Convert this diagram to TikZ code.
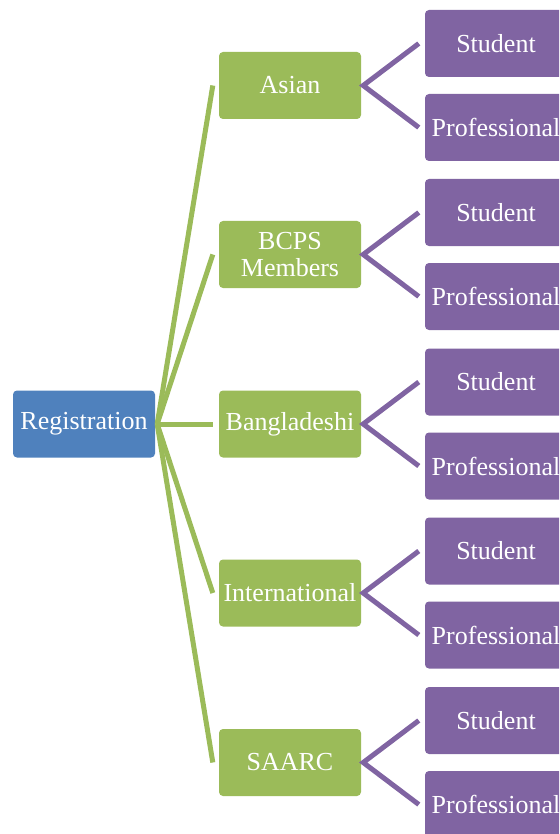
\documentclass[tikz,border=0pt]{standalone}
\usepackage{fontspec}
\setmainfont{Liberation Serif}
\usetikzlibrary{calc}
\definecolor{regblue}{HTML}{4F81BD}
\definecolor{catgreen}{HTML}{9BBB59}
\definecolor{subpurple}{HTML}{8064A2}
\tikzset{
  boxbase/.style={rounded corners=4pt, minimum width=142pt, minimum height=67pt, inner sep=0pt, text=white, font=\fontsize{26pt}{27pt}\selectfont, align=center},
  regbox/.style={boxbase, fill=regblue},
  catbox/.style={boxbase, fill=catgreen},
  subbox/.style={boxbase, fill=subpurple},
  greenlink/.style={draw=catgreen, line width=5pt},
  purplelink/.style={draw=subpurple, line width=5pt, line join=miter},
}
\begin{document}
\begin{tikzpicture}[x=1pt,y=-1pt]
\useasboundingbox (0,0) rectangle (559,834);
\clip (0,0) rectangle (559,834);
\node[regbox] (reg) at (84,424) {Registration};
\coordinate (hub) at ($(reg.east)+(2,0)$);
\foreach \name/\txt/\y in {asian/Asian/85.5, bcps/{BCPS\\Members}/254.5, bd/Bangladeshi/424, intl/International/593, saarc/SAARC/762.5}{
  \node[catbox] (\name) at (290,\y) {\txt};
  \node[subbox] (\name s) at (496,\y-42) {Student};
  \node[subbox] (\name p) at (496,\y+42) {Professional};
  \coordinate (\name in) at ($(\name.west)+(-6,0)$);
  \coordinate (\name out) at ($(\name.east)+(2,0)$);
  \coordinate (\name sin) at ($(\name s.west)+(-6,0)$);
  \coordinate (\name pin) at ($(\name p.west)+(-6,0)$);
  \draw[greenlink] (hub) -- (\name in);
  \draw[purplelink] (\name sin) -- (\name out) -- (\name pin);
}
\end{tikzpicture}
\end{document}
